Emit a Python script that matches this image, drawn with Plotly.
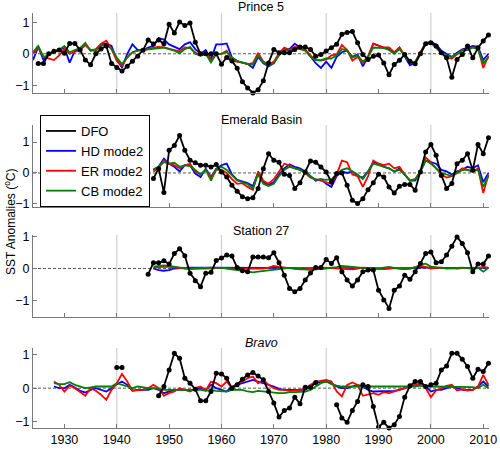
import plotly.graph_objects as go
from plotly.subplots import make_subplots

# ---------------- data ----------------
panel_titles = ["Prince 5", "Emerald Basin", "Station 27", "<i>Bravo</i>"]
series_names = ["DFO", "HD mode2", "ER mode2", "CB mode2"]
x_tick_vals = [1930, 1940, 1950, 1960, 1970, 1980, 1990, 2000, 2010]
y_tick_vals = [-1, 0, 1]
grid_years = [1940, 1960, 1980, 2000]

# Prince 5
p5_dfo_years = list(range(1925, 2012))
p5_dfo = [-0.31, -0.31, 0.0, 0.08, 0.12, 0.02, 0.33, 0.33, 0.12, -0.2,
          -0.35, 0.0, 0.15, 0.25, -0.31, -0.44, -0.55, -0.4, -0.24, -0.08,
          0.11, 0.44, 0.31, 0.44, 0.32, 0.94, 0.66, 1.01, 0.9, 0.98,
          0.37, 0.0, 0.0, 0.0, 0.0, -0.33, -0.12, -0.23, -0.46, -0.89,
          -1.09, -1.25, -1.15, -0.86, -0.29, 0.14, 0.03, 0.03, 0.03, 0.14,
          0.22, 0.22, 0.14, -0.08, -0.02, 0.09, 0.19, 0.3, 0.62, 0.68,
          0.71, 0.35, -0.02, -0.18, -0.08, -0.04, -0.29, -0.67, -0.34, -0.21,
          -0.02, -0.24, -0.32, 0.0, 0.32, 0.35, 0.25, 0.03, -0.13, -0.75,
          -0.18, -0.02, 0.25, -0.13, 0.19, 0.41, 0.6]
p5_mod_years = list(range(1924, 2012))
p5_hd = [-0.2, 0.22, -0.2, 0.0, 0.05, 0.15, 0.18, -0.28, 0.1, 0.18,
         0.3, 0.12, 0.1, 0.3, 0.33, 0.25, -0.2, -0.44, 0.0, 0.3,
         0.12, 0.12, 0.2, 0.25, 0.5, 0.45, 0.3, 0.22, 0.15, 0.3,
         0.37, 0.15, 0.0, 0.12, -0.17, 0.3, 0.3, 0.33, -0.12, -0.23,
         -0.28, -0.33, -0.45, -0.1, -0.3, -0.4, -0.3, 0.0, 0.15, 0.15,
         0.32, 0.2, 0.14, -0.07, -0.3, -0.45, -0.25, -0.45, -0.1, 0.05,
         0.1, -0.1, -0.02, -0.4, -0.1, 0.32, 0.25, 0.2, 0.14, 0.03,
         0.2, -0.08, -0.37, -0.29, 0.03, 0.35, 0.38, 0.3, 0.1, 0.0,
         -0.1, 0.03, 0.14, 0.19, 0.25, 0.22, -0.2, 0.0]
p5_er = [0.0, 0.2, -0.1, -0.15, -0.2, -0.05, 0.15, 0.0, 0.05, 0.12,
         0.28, 0.1, 0.15, 0.32, 0.42, 0.15, -0.22, -0.38, -0.1, 0.05,
         0.1, 0.12, 0.15, 0.2, 0.22, 0.2, 0.15, 0.12, 0.08, 0.2,
         0.18, 0.04, -0.06, 0.04, -0.2, 0.0, 0.0, 0.1, -0.23, -0.25,
         -0.28, -0.33, -0.3, 0.03, -0.25, -0.35, -0.25, 0.02, 0.2, 0.12,
         0.22, 0.2, 0.12, -0.05, -0.2, -0.22, -0.18, -0.05, -0.02, 0.28,
         0.12, -0.22, -0.1, -0.3, -0.08, 0.32, 0.25, 0.2, 0.2, 0.05,
         0.2, -0.05, -0.3, -0.25, 0.05, 0.35, 0.35, 0.19, 0.03, -0.13,
         -0.15, 0.0, 0.12, 0.15, 0.2, 0.18, -0.45, -0.07]
p5_cb = [0.05, 0.25, -0.1, -0.05, 0.05, 0.12, 0.25, 0.05, 0.12, 0.18,
         0.35, 0.1, 0.1, 0.25, 0.3, 0.15, -0.12, -0.33, -0.12, 0.05,
         0.1, 0.12, 0.15, 0.18, 0.18, 0.2, 0.15, 0.1, 0.01, 0.15,
         0.22, 0.0, -0.06, 0.0, -0.28, 0.0, 0.0, 0.05, -0.12, -0.23,
         -0.28, -0.31, -0.35, -0.05, -0.28, -0.38, -0.3, -0.05, 0.12, 0.1,
         0.18, 0.15, 0.1, -0.1, -0.2, -0.2, -0.15, -0.15, -0.05, 0.15,
         0.1, -0.12, -0.05, -0.25, -0.1, 0.2, 0.2, 0.18, 0.12, 0.0,
         0.15, -0.05, -0.3, -0.25, 0.0, 0.3, 0.35, 0.22, 0.0, -0.05,
         -0.1, 0.0, 0.1, 0.12, 0.2, 0.15, -0.3, -0.12]

# Emerald Basin
eb_dfo_years = list(range(1947, 2012))
eb_dfo = [-0.18, 0.14, -0.63, 0.73, 0.89, 1.21, 0.73, 0.41, 0.33, 0.25,
          0.25, 0.19, 0.27, 0.03, -0.13, -0.4, -0.59, -0.77, -0.83, -0.8,
          -0.5, 0.14, 0.62, 0.41, 0.35, -0.04, -0.08, -0.5, -0.32, 0.03,
          0.39, 0.35, 0.19, 0.03, -0.29, -0.02, 0.0, -0.4, -0.88, -0.99,
          -0.83, -0.54, -0.32, -0.04, -0.13, -0.45, -0.65, -0.43, -0.37, -0.37,
          -0.56, 0.03, 0.68, 0.92, 0.57, -0.08, -0.5, -0.34, 0.3, 0.41,
          0.62, 0.09, 0.92, 0.62, 1.14]
eb_mod_years = list(range(1947, 2012))
eb_hd = [0.1, 0.2, 0.46, 0.3, 0.2, 0.05, 0.25, 0.25, -0.02, -0.13,
         0.14, -0.13, 0.14, 0.25, 0.3, -0.05, -0.22, -0.28, -0.33, -0.42,
         0.0, -0.3, -0.38, -0.3, -0.05, 0.15, 0.28, 0.2, 0.15, 0.05,
         -0.1, -0.25, -0.2, -0.35, -0.45, -0.1, 0.05, 0.0, 0.05, -0.1,
         -0.15, 0.05, 0.35, 0.3, 0.2, 0.15, 0.05, 0.15, -0.05, -0.25,
         -0.25, 0.05, 0.4, 0.35, 0.3, 0.1, 0.05, -0.05, 0.05, 0.1,
         0.2, 0.15, 0.25, -0.3, 0.0]
eb_er = [0.05, 0.15, 0.41, 0.3, 0.25, 0.15, 0.25, 0.3, 0.05, -0.05,
         0.1, -0.15, 0.1, 0.1, 0.0, -0.2, -0.35, -0.33, -0.45, -0.55,
         0.05, -0.25, -0.35, -0.2, 0.05, 0.3, 0.25, 0.15, 0.1, 0.0,
         -0.15, -0.2, -0.25, -0.3, -0.35, -0.05, 0.4, 0.35, -0.05, -0.1,
         -0.45, -0.1, 0.4, 0.3, 0.25, 0.3, 0.15, 0.2, -0.05, -0.25,
         -0.2, 0.05, 0.5, 0.35, 0.15, -0.05, -0.15, -0.1, 0.0, 0.15,
         0.1, 0.05, 0.15, -0.65, -0.05]
eb_cb = [0.12, 0.2, 0.35, 0.3, 0.33, 0.2, 0.25, 0.22, 0.1, -0.05,
         0.1, -0.25, 0.12, 0.2, 0.1, -0.08, -0.24, -0.3, -0.36, -0.5,
         -0.05, -0.35, -0.42, -0.35, -0.1, 0.1, 0.2, 0.15, 0.1, 0.0,
         -0.1, -0.22, -0.2, -0.22, -0.2, -0.05, 0.1, 0.15, 0.05, -0.05,
         -0.2, 0.05, 0.3, 0.25, 0.2, 0.15, 0.05, 0.1, -0.05, -0.25,
         -0.2, 0.05, 0.4, 0.3, 0.15, 0.0, -0.05, -0.1, 0.0, 0.1,
         0.1, 0.05, 0.1, -0.45, -0.1]

# Station 27
s27_dfo_years = list(range(1946, 2012))
s27_dfo = [-0.18, 0.18, 0.18, 0.24, 0.14, 0.47, 0.62, 0.4, -0.15, -0.38,
           -0.57, -0.15, -0.12, 0.25, 0.33, 0.42, 0.39, 0.03, -0.07, -0.1,
           0.36, 0.36, 0.36, 0.34, 0.49, 0.18, -0.21, -0.63, -0.73, -0.63,
           -0.36, -0.14, 0.03, 0.03, 0.28, 0.16, 0.34, -0.1, -0.36, -0.55,
           -0.36, -0.1, -0.05, -0.05, -0.68, -0.99, -1.25, -0.68, -0.55, -0.21,
           -0.34, -0.1, 0.16, 0.47, 0.52, 0.18, 0.21, 0.42, 0.7, 0.99,
           0.78, 0.49, -0.1, 0.14, 0.14, 0.39]
s27_mod_years = list(range(1947, 2012))
s27_hd = [0.0, -0.05, -0.07, -0.05, 0.0, 0.02, 0.02, 0.03, 0.03, 0.02,
          0.02, 0.03, 0.03, 0.03, 0.03, 0.03, 0.04, 0.04, 0.04, 0.03,
          0.03, 0.02, 0.02, 0.02, 0.02, 0.02, 0.01, 0.01, 0.01, 0.02,
          0.02, 0.02, 0.02, 0.02, 0.02, 0.02, 0.03, 0.03, 0.02, 0.02,
          0.02, 0.01, 0.01, 0.0, 0.0, 0.0, 0.01, 0.01, 0.01, 0.02,
          0.02, 0.03, 0.04, 0.03, 0.02, 0.02, 0.02, 0.03, 0.03, 0.02,
          0.02, 0.02, 0.03, 0.02, 0.02]
s27_er = [0.03, 0.05, 0.06, 0.05, 0.03, 0.02, 0.0, 0.0, 0.01, 0.0,
          0.0, 0.01, 0.02, 0.02, 0.01, 0.0, -0.02, -0.02, 0.0, 0.0,
          -0.02, 0.0, 0.03, 0.08, 0.05, 0.03, 0.0, -0.02, -0.03, -0.02,
          0.0, 0.02, 0.03, 0.02, 0.01, 0.0, -0.02, -0.03, -0.03, 0.0,
          0.03, 0.02, 0.0, -0.02, -0.02, 0.0, 0.02, 0.0, -0.02, 0.0,
          0.03, 0.08, 0.05, 0.0, 0.02, 0.03, 0.01, 0.0, 0.0, 0.01,
          0.02, 0.0, 0.01, 0.05, 0.03]
s27_cb = [0.06, 0.08, 0.1, 0.08, 0.06, 0.03, 0.0, -0.02, 0.0, 0.02,
          0.02, 0.03, 0.03, 0.02, 0.0, -0.02, -0.04, -0.06, -0.1, -0.12,
          -0.1, -0.08, -0.06, -0.03, 0.0, 0.02, 0.02, 0.0, -0.02, -0.03,
          -0.04, -0.03, -0.02, 0.0, 0.03, 0.04, 0.08, 0.07, 0.05, 0.03,
          0.02, 0.0, -0.02, 0.0, 0.03, 0.05, 0.02, 0.0, -0.02, 0.0,
          0.04, 0.12, 0.15, 0.06, 0.03, 0.02, 0.0, 0.01, 0.02, 0.03,
          0.01, -0.02, 0.02, -0.1, 0.02]

# Bravo (None = no observation)
bv_dfo_years = list(range(1940, 2012))
bv_dfo = [0.62, 0.62, None, None, None, None, None, None, -0.23, 0.05,
          0.55, 1.05, 0.9, 0.3, 0.15, -0.03, -0.38, -0.38, -0.1, 0.45,
          0.43, 0.3, 0.0, 0.1, 0.27, 0.4, 0.47, 0.37, 0.25, -0.1,
          -0.45, -0.87, -0.67, -0.6, -0.27, -0.47, 0.03, 0.03, 0.17, None,
          None, None, -0.5, -0.9, -1.03, -0.67, -0.4, 0.1, 0.05, -0.55,
          -1.17, -1.03, -1.2, -1.1, -0.85, -0.27, 0.07, 0.2, 0.2, 0.05,
          0.1, 0.15, 0.55, 0.67, 1.05, 1.05, 0.87, 0.65, 0.3, 0.57,
          0.5, 0.75]
bv_mod_years = list(range(1928, 2012))
bv_hd = [0.05, 0.0, 0.0, 0.1, 0.02, -0.08, -0.13, -0.05, 0.0, -0.05,
         -0.1, 0.0, 0.12, 0.2, 0.1, -0.08, -0.05, -0.05, -0.05, 0.0,
         -0.05, -0.15, -0.1, -0.05, -0.05, -0.05, -0.08, -0.05, 0.0, -0.05,
         0.1, 0.0, -0.05, -0.1, 0.05, 0.1, 0.15, 0.2, 0.25, 0.2,
         0.15, 0.12, 0.05, -0.02, -0.05, -0.05, -0.05, -0.05, -0.05, 0.05,
         0.15, 0.2, 0.2, 0.15, 0.05, 0.0, 0.0, 0.05, 0.1, 0.05,
         -0.05, -0.1, -0.1, -0.1, -0.1, -0.08, -0.05, 0.0, 0.05, 0.1,
         0.1, 0.05, -0.1, -0.05, -0.05, 0.0, 0.05, 0.0, -0.05, -0.05,
         -0.05, 0.05, 0.2, 0.05]
bv_er = [0.2, 0.1, -0.1, 0.08, 0.0, -0.12, -0.23, 0.0, -0.08, -0.2,
         -0.35, -0.05, 0.15, 0.43, 0.2, -0.07, -0.05, -0.05, 0.0, 0.1,
         0.0, -0.23, -0.15, -0.1, 0.0, -0.05, -0.1, 0.0, 0.05, -0.07,
         0.2, 0.15, 0.05, 0.2, 0.0, 0.15, 0.2, 0.3, 0.35, 0.15,
         0.25, 0.1, 0.0, -0.05, -0.05, -0.08, -0.07, -0.05, 0.0, 0.1,
         0.2, 0.22, 0.25, 0.2, -0.1, -0.25, 0.1, 0.17, 0.1, -0.23,
         -0.2, -0.15, -0.2, -0.12, -0.15, -0.1, -0.05, 0.0, 0.05, 0.1,
         0.15, 0.0, -0.27, -0.07, 0.0, 0.07, 0.1, -0.07, -0.03, -0.07,
         -0.05, 0.05, 0.4, 0.1]
bv_cb = [0.15, 0.12, 0.12, 0.18, 0.1, 0.05, 0.0, 0.02, 0.05, 0.05,
         0.05, 0.05, 0.15, 0.1, 0.05, 0.0, 0.05, 0.02, 0.0, 0.0,
         -0.03, -0.05, -0.05, -0.05, -0.05, -0.05, -0.05, -0.05, -0.05, -0.08,
         -0.05, -0.08, -0.1, -0.1, -0.05, -0.05, -0.05, -0.1, -0.12, -0.08,
         -0.1, -0.12, -0.15, -0.15, -0.15, -0.12, -0.12, -0.1, -0.1, -0.05,
         0.05, 0.15, 0.2, 0.12, 0.08, 0.05, 0.05, 0.05, 0.05, 0.05,
         0.03, 0.03, 0.03, 0.03, 0.03, 0.03, 0.05, 0.05, 0.05, 0.05,
         0.08, 0.05, 0.05, 0.05, 0.05, 0.05, 0.05, 0.05, 0.05, 0.05,
         0.03, 0.0, 0.1, 0.0]

panels = [
    (p5_dfo_years, p5_dfo, p5_mod_years, p5_hd, p5_er, p5_cb),
    (eb_dfo_years, eb_dfo, eb_mod_years, eb_hd, eb_er, eb_cb),
    (s27_dfo_years, s27_dfo, s27_mod_years, s27_hd, s27_er, s27_cb),
    (bv_dfo_years, bv_dfo, bv_mod_years, bv_hd, bv_er, bv_cb),
]
for p in panels:
    assert len(p[0]) == len(p[1]), (len(p[0]), len(p[1]))
    for s in p[3:]:
        assert len(p[2]) == len(s), (len(p[2]), len(s))

# ---------------- style ----------------
W, H = 500, 450
ML, MR = 33, 11
panel_px = [(13, 93), (125, 207), (235, 317), (348, 428)]   # page pixels
y_ranges = [(-1.25, 1.3), (-1.1, 1.55), (-1.52, 1.05), (-1.2, 1.21)]
title_py = [7, 120, 231, 343]
x_range = (1924, 2011.1)
colors = {"DFO": "black", "HD mode2": "rgb(0,0,255)",
          "ER mode2": "rgb(255,0,0)", "CB mode2": "rgb(0,128,0)"}
font_family = "Liberation Sans, Arial, Helvetica, sans-serif"
axis_col = "rgb(120,120,120)"


def py(p):
    return 1 - p / H


def px(p):
    return (p - ML) / (W - ML - MR)


fig = make_subplots(rows=4, cols=1)

for i, (dy, dv, my, hd, er, cb) in enumerate(panels):
    row = i + 1
    show = (i == 1)
    for name, vals, rank in [("HD mode2", hd, 2), ("ER mode2", er, 3), ("CB mode2", cb, 4)]:
        fig.add_trace(go.Scatter(x=my, y=vals, mode="lines", name=name,
                                 line=dict(color=colors[name], width=1.8),
                                 showlegend=show, legendrank=rank, legendgroup=name,
                                 cliponaxis=False, hoverinfo="skip"),
                      row=row, col=1)
    fig.add_trace(go.Scatter(x=dy, y=dv, mode="lines+markers", name="DFO",
                             line=dict(color="black", width=1.8),
                             marker=dict(color="black", size=5),
                             showlegend=False, legendgroup="DFO",
                             cliponaxis=False, hoverinfo="skip"),
                  row=row, col=1)

# legend entry for DFO drawn as a plain line (as in the original key)
fig.add_trace(go.Scatter(x=[None], y=[None], mode="lines", name="DFO",
                         line=dict(color="black", width=1.8),
                         showlegend=True, legendrank=1, legendgroup="DFO",
                         hoverinfo="skip"), row=2, col=1)

shapes = []
annotations = []
for i in range(4):
    xa = "x" if i == 0 else f"x{i+1}"
    ya = "y" if i == 0 else f"y{i+1}"
    top, bot = panel_px[i]
    fig.update_yaxes(domain=[py(bot), py(top)], range=list(y_ranges[i]),
                     tickvals=y_tick_vals, ticks="inside", ticklen=4,
                     tickcolor=axis_col, showline=True, linecolor=axis_col,
                     linewidth=1, showgrid=False, zeroline=False, automargin=False,
                     tickfont=dict(size=12.5, color="black", family=font_family),
                     row=i + 1, col=1)
    fig.update_xaxes(range=list(x_range), tickvals=x_tick_vals, ticks="inside",
                     ticklen=4, tickcolor=axis_col, showline=True,
                     linecolor=axis_col, linewidth=1, showgrid=False,
                     zeroline=False, showticklabels=(i == 3), automargin=False,
                     tickfont=dict(size=12.5, color="black", family=font_family),
                     row=i + 1, col=1)
    for gy in grid_years:
        shapes.append(dict(type="line", xref=xa, yref=f"{ya} domain",
                           x0=gy, x1=gy, y0=0, y1=1, layer="below",
                           line=dict(color="rgb(200,200,200)", width=1)))
    shapes.append(dict(type="line", xref=f"{xa} domain", yref=ya,
                       x0=0, x1=1, y0=0, y1=0, layer="below",
                       line=dict(color="rgb(90,90,90)", width=1, dash="3px,2px")))
    annotations.append(dict(text=panel_titles[i], xref="paper", yref="paper",
                            x=0.5, y=py(title_py[i]), xanchor="center",
                            yanchor="middle", showarrow=False,
                            font=dict(size=12.5, color="black", family=font_family)))

annotations.append(dict(text="SST Anomalies (<sup>o</sup>C)", xref="paper", yref="paper",
                        x=px(10), y=py(222), xanchor="center",
                        yanchor="middle", textangle=-90, showarrow=False,
                        font=dict(size=12, color="black", family=font_family)))

fig.update_layout(
    width=W, height=H,
    margin=dict(l=ML, r=MR, t=0, b=0, autoexpand=False),
    paper_bgcolor="white", plot_bgcolor="white",
    shapes=shapes, annotations=annotations, hovermode=False,
    font=dict(family=font_family, size=12.5, color="black"),
    legend=dict(x=px(40), y=py(115),
                xanchor="left", yanchor="top",
                bgcolor="white", bordercolor="black", borderwidth=1,
                font=dict(size=13, family=font_family, color="black"),
                traceorder="grouped", tracegroupgap=0),
)

fig.write_html("out.html",
               config={"displayModeBar": False, "staticPlot": True},
               post_script="document.body.style.margin='0px';"
                           "document.body.style.overflow='hidden';")
